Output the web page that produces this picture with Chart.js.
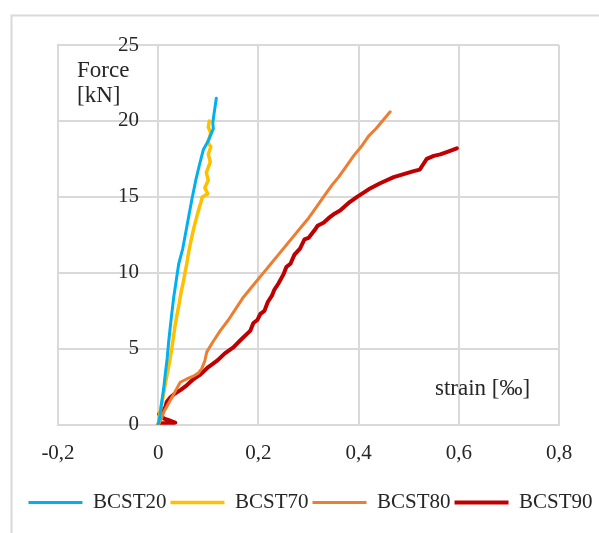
<!DOCTYPE html>
<html>
<head>
<meta charset="utf-8">
<script src="https://cdn.jsdelivr.net/npm/chart.js@4.4.1/dist/chart.umd.min.js"></script>
<style>
  html, body { margin: 0; padding: 0; background: #fff; }
  canvas { display: block; }
</style>
</head>
<body>
<canvas id="myChart" width="599" height="533"></canvas>
<script>
// series data (strain in per mille, force in kN)
const seriesNames = ['BCST20', 'BCST70', 'BCST80', 'BCST90'];
const seriesColors = ['#00B0F0', '#FFC000', '#ED7D31', '#C00000'];

const bcst20Strain = [0, 0.004, 0.007, 0.011, 0.014, 0.018, 0.021, 0.026, 0.031, 0.036, 0.041, 0.049, 0.058, 0.067, 0.075, 0.083, 0.090, 0.095, 0.100, 0.105, 0.110, 0.109, 0.112, 0.116];
const bcst20Force  = [0, 0.7, 1.5, 2.4, 3.3, 4.4, 5.5, 7.0, 8.4, 9.5, 10.6, 11.6, 13.2, 14.8, 16.1, 17.2, 18.1, 18.4, 18.7, 19.1, 19.5, 19.9, 20.6, 21.5];

const bcst70Strain = [0, 0.004, 0.009, 0.012, 0.016, 0.019, 0.024, 0.027, 0.031, 0.034, 0.039, 0.042, 0.046, 0.049, 0.054, 0.057, 0.061, 0.064, 0.070, 0.073, 0.077, 0.082, 0.085, 0.088, 0.099, 0.093, 0.100, 0.096, 0.104, 0.100, 0.105, 0.099, 0.105, 0.100, 0.102];
const bcst70Force  = [0, 0.9, 1.7, 2.3, 3.0, 3.5, 4.4, 5.0, 5.9, 6.6, 7.5, 8.0, 8.8, 9.2, 10.1, 10.6, 11.4, 11.9, 12.8, 13.2, 13.7, 14.3, 14.6, 15.0, 15.2, 15.6, 16.1, 16.6, 17.3, 17.8, 18.3, 18.6, 19.2, 19.6, 20.0];

const bcst80Strain = [0, 0.005, 0.012, 0.024, 0.034, 0.044, 0.056, 0.070, 0.080, 0.087, 0.093, 0.097, 0.110, 0.124, 0.140, 0.154, 0.170, 0.190, 0.210, 0.225, 0.240, 0.255, 0.270, 0.285, 0.300, 0.315, 0.330, 0.345, 0.360, 0.375, 0.390, 0.405, 0.420, 0.435, 0.450, 0.463];
const bcst80Force  = [0, 0.3, 0.9, 1.6, 2.2, 2.8, 3.0, 3.2, 3.4, 3.7, 4.2, 4.8, 5.5, 6.2, 6.9, 7.6, 8.4, 9.2, 10.0, 10.6, 11.2, 11.8, 12.4, 13.0, 13.6, 14.3, 15.0, 15.7, 16.3, 17.0, 17.7, 18.3, 19.0, 19.5, 20.1, 20.6];

const bcst90Strain = [0, 0.005, 0.030, 0.034, 0.021, 0.012, 0.002, 0.008, 0.014, 0.017, 0.024, 0.031, 0.045, 0.057, 0.070, 0.084, 0.100, 0.117, 0.133, 0.150, 0.165, 0.184, 0.190, 0.198, 0.204, 0.212, 0.219, 0.227, 0.232, 0.240, 0.250, 0.256, 0.264, 0.272, 0.283, 0.292, 0.300, 0.312, 0.318, 0.330, 0.340, 0.352, 0.363, 0.380, 0.397, 0.420, 0.443, 0.470, 0.490, 0.510, 0.522, 0.530, 0.536, 0.550, 0.563, 0.580, 0.596];
const bcst90Force  = [0, 0.1, 0.1, 0.15, 0.3, 0.4, 0.7, 1.0, 1.1, 1.5, 1.8, 2.0, 2.3, 2.6, 3.0, 3.3, 3.8, 4.2, 4.7, 5.1, 5.6, 6.2, 6.7, 6.9, 7.3, 7.5, 8.1, 8.5, 8.9, 9.3, 9.9, 10.4, 10.6, 11.2, 11.6, 12.2, 12.3, 12.8, 13.1, 13.3, 13.6, 13.9, 14.1, 14.6, 15.0, 15.5, 15.9, 16.3, 16.5, 16.7, 16.8, 17.2, 17.5, 17.7, 17.8, 18.0, 18.2];

const xTickValues = [-0.2, 0, 0.2, 0.4, 0.6, 0.8];
const xTickLabels = ['-0,2', '0', '0,2', '0,4', '0,6', '0,8'];
const yTickLabels = ['0', '5', '10', '15', '20', '25'];

const strainLists = [bcst20Strain, bcst70Strain, bcst80Strain, bcst90Strain];
const forceLists = [bcst20Force, bcst70Force, bcst80Force, bcst90Force];
const lineWidths = [3, 3.5, 3, 4];

const datasets = seriesNames.map((name, i) => ({
    label: name,
    data: strainLists[i].map((x, j) => ({ x: x, y: forceLists[i][j] })),
    borderColor: seriesColors[i],
    backgroundColor: seriesColors[i],
    borderWidth: lineWidths[i],
    borderCapStyle: 'round',
    borderJoinStyle: 'round',
    pointRadius: 0,
    fill: false,
    tension: 0
}));

const serif = "'Liberation Serif', 'Times New Roman', serif";

// outer frame and the text inside the plot
const decor = {
    id: 'decor',
    beforeDraw(chart) {
        const ctx = chart.ctx;
        ctx.save();
        ctx.strokeStyle = '#d9d9d9';
        ctx.lineWidth = 2;
        ctx.beginPath();
        ctx.moveTo(11.5, 533);
        ctx.lineTo(11.5, 15.5);
        ctx.lineTo(599, 15.5);
        ctx.stroke();
        ctx.restore();
    },
    afterDraw(chart) {
        const ctx = chart.ctx;
        ctx.save();
        ctx.fillStyle = '#262626';
        ctx.font = '23px ' + serif;
        ctx.textAlign = 'left';
        ctx.textBaseline = 'alphabetic';
        ctx.fillText('Force', 77, 77);
        ctx.fillText('[kN]', 77, 102);
        ctx.fillText('strain [\u2030]', 435, 395);
        ctx.restore();
    }
};

const ctx1 = document.getElementById('myChart').getContext('2d');
const myChart = new Chart(ctx1, {
    type: 'line',
    data: { datasets: datasets },
    plugins: [decor],
    options: {
        responsive: false,
        animation: false,
        devicePixelRatio: 1,
        layout: { padding: { left: 22, right: 0, top: 45, bottom: 10 } },
        plugins: {
            tooltip: { enabled: false },
            legend: {
                position: 'bottom',
                labels: {
                    usePointStyle: true,
                    pointStyle: 'line',
                    pointStyleWidth: 54,
                    boxHeight: 4,
                    padding: 4,
                    color: '#262626',
                    font: { family: serif, size: 21 }
                }
            }
        },
        scales: {
            x: {
                type: 'linear',
                position: 'bottom',
                min: -0.2,
                max: 0.8,
                afterBuildTicks(scale) {
                    scale.ticks = xTickValues.map(v => ({ value: v }));
                },
                afterFit(scale) { scale.height += 6; },
                ticks: {
                    padding: 16,
                    color: '#262626',
                    font: { family: serif, size: 21 },
                    callback: (v, i) => xTickLabels[i]
                },
                grid: { color: '#d9d9d9', lineWidth: 2, drawTicks: false },
                border: { color: '#d9d9d9', width: 2 }
            },
            y: {
                type: 'linear',
                position: 'left',
                min: 0,
                max: 25,
                afterFit(scale) {
                    scale.width = 36;
                    scale.paddingTop = 0;
                    scale.paddingBottom = 0;
                },
                ticks: {
                    stepSize: 5,
                    mirror: true,
                    crossAlign: 'far',
                    padding: 60,
                    color: '#262626',
                    font: { family: serif, size: 21 },
                    callback: (v, i) => yTickLabels[i]
                },
                grid: { color: '#d9d9d9', lineWidth: 2, drawTicks: false },
                border: { color: '#d9d9d9', width: 2 }
            },
            yRight: {
                type: 'linear',
                position: 'right',
                afterFit(scale) { scale.width = 40; },
                ticks: { display: false },
                grid: { display: false },
                border: { display: false }
            }
        }
    }
});
</script>
</body>
</html>
